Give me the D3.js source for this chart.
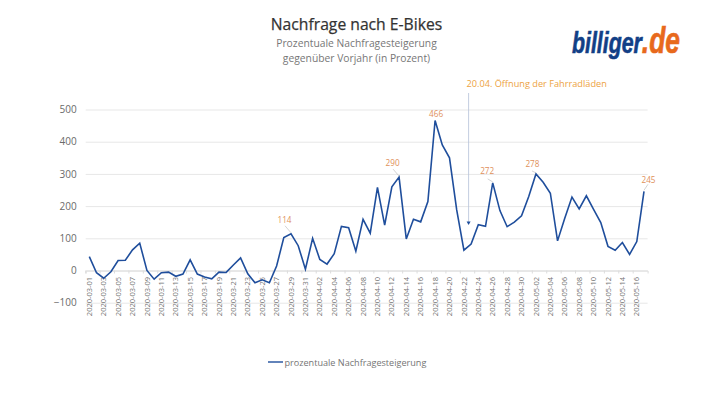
<!DOCTYPE html>
<html>

<head>
    <title>Nachfrage nach E-Bikes</title>
    <script src='https://cdn.jsdelivr.net/npm/d3@7'></script>
    <style type='text/css'>
        html,
        body {
            margin: 0;
            padding: 0;
            overflow: hidden;
            background: white;
        }

        svg {
            display: block;
        }

        text {
            font-family: 'Open Sans', sans-serif;
        }
    </style>
</head>

<body>
    <script>
        // Values, one per day from 2020-03-01 to 2020-05-17:
        const marchValues = [43, -7, -24, -4, 31, 32, 64, 85, 0, -27, -7, -5, -18, -11, 33, -11,
            -20, -26, -5, -6, 17, 39, -10, -38, -29, -38, 14, 102, 114, 77, 4];
        const aprilValues = [100, 34, 20, 52, 137, 133, 60, 159, 116, 258, 141, 260, 290, 98, 159,
            151, 214, 466, 390, 350, 188, 63, 82, 142, 137, 272, 186, 136, 150, 170];
        const mayValues = [230, 300, 274, 240, 92, 162, 228, 191, 232, 190, 149, 75, 63, 87, 50, 90, 246];
        const yTicks = [-100, 0, 100, 200, 300, 400, 500];
        const seriesName = 'prozentuale Nachfragesteigerung';

        // Printed labels (the one on 05-02 differs from the height of the line in the original):
        const calloutDates = ['2020-03-29', '2020-04-13', '2020-04-18', '2020-04-26', '2020-05-02', '2020-05-17'];
        const calloutTexts = ['114', '290', '466', '272', '278', '245'];

        // Build the dates:
        const pad = (n) => String(n).padStart(2, '0');
        const dates = [
            ...marchValues.map((_, i) => `2020-03-${pad(i + 1)}`),
            ...aprilValues.map((_, i) => `2020-04-${pad(i + 1)}`),
            ...mayValues.map((_, i) => `2020-05-${pad(i + 1)}`)
        ];
        const values = [...marchValues, ...aprilValues, ...mayValues];
        const data = dates.map((date, i) => ({ date, value: values[i] }));

        // page setup and dimensions:
        const width = 720;
        const height = 405;
        const svg = d3.select('body').append('svg')
            .attr('width', width)
            .attr('height', height);

        // scales:
        const x = d3.scaleBand().domain(dates).range([85.7, 647.6]);
        const y = d3.scaleLinear().domain([-100, 500]).range([302.7, 109.5]);
        const cx = (date) => x(date) + x.bandwidth() / 2;

        const grey = '#757575';
        const orange = '#e0905a';
        const blue = '#1f4e9c';

        // Titles:
        svg.append('text').attr('x', 356.5).attr('y', 30)
            .attr('text-anchor', 'middle').attr('font-size', 15.7).attr('fill', '#333')
            .attr('stroke', '#333').attr('stroke-width', 0.25)
            .text('Nachfrage nach E-Bikes');
        svg.append('text').attr('x', 356.5).attr('y', 47)
            .attr('text-anchor', 'middle').attr('font-size', 10.3).attr('fill', '#777')
            .text('Prozentuale Nachfragesteigerung');
        svg.append('text').attr('x', 356.5).attr('y', 62)
            .attr('text-anchor', 'middle').attr('font-size', 10.3).attr('fill', '#777')
            .text('gegenüber Vorjahr (in Prozent)');

        // Logo, as one text squeezed to its width:
        const logo = svg.append('text')
            .attr('x', 572).attr('y', 53)
            .attr('textLength', 108).attr('lengthAdjust', 'spacingAndGlyphs')
            .style('font-family', "'Liberation Sans', sans-serif")
            .attr('font-weight', 700).attr('font-style', 'italic')
            .attr('stroke-width', 0.6);
        logo.append('tspan').attr('font-size', 29)
            .attr('fill', '#123f86').attr('stroke', '#123f86').text('billiger');
        logo.append('tspan').attr('font-size', 36)
            .attr('fill', '#e8691c').attr('stroke', '#e8691c').text('.de');

        // Grid and y labels:
        svg.append('g')
            .attr('transform', `translate(${x.range()[0]},0)`)
            .call(d3.axisLeft(y).tickValues(yTicks).tickSize(-(x.range()[1] - x.range()[0])).tickPadding(9))
            .call(g => g.select('.domain').remove())
            .call(g => g.selectAll('line').attr('stroke', '#e7e7e7').attr('stroke-width', 1))
            .call(g => g.selectAll('text').attr('fill', '#6a6a6a').attr('font-size', 10)
                .style('font-family', "'Open Sans', sans-serif"));

        // x axis: every second date, ticks on the band edges
        const xAxis = svg.append('g')
            .attr('transform', `translate(0,${y(0)})`)
            .call(d3.axisBottom(x).tickValues(dates.filter((_, i) => i % 2 === 0)).tickSize(3).tickPadding(0))
            .call(g => g.select('.domain').attr('stroke', '#dcdcdc'))
            .call(g => g.selectAll('line').attr('stroke', '#dcdcdc')
                .attr('x1', -x.bandwidth() / 2).attr('x2', -x.bandwidth() / 2));
        xAxis.selectAll('text')
            .attr('transform', 'rotate(-90)')
            .attr('text-anchor', 'end')
            .attr('x', -6.5)
            .attr('y', 0)
            .attr('dy', '0.35em')
            .attr('fill', grey)
            .attr('font-size', 7.5)
            .style('font-family', "'Open Sans', sans-serif");

        // The line:
        const line = d3.line().x(d => cx(d.date)).y(d => y(d.value));
        svg.append('path')
            .datum(data)
            .attr('fill', 'none')
            .attr('stroke', blue)
            .attr('stroke-width', 1.6)
            .attr('stroke-linejoin', 'miter')
            .attr('d', line);

        // Callouts: [label dx, label dy, leader start dx, dy] relative to the point
        const calloutOffsets = [
            [-6.5, -11, -6, -8],
            [-6.5, -11, -6, -8],
            [1, -3, null, null],
            [-5.5, -8.5, -5, -4],
            [-3.5, -6.5, -4, -3],
            [4.5, -8, 4, -7]
        ];
        const valueOf = (date) => data.find(d => d.date === date).value;
        calloutDates.forEach((date, i) => {
            const [ldx, ldy, sdx, sdy] = calloutOffsets[i];
            const px = cx(date);
            const py = y(valueOf(date));
            if (sdx !== null) {
                svg.append('line')
                    .attr('x1', px + sdx).attr('y1', py + sdy)
                    .attr('x2', px).attr('y2', py - 1)
                    .attr('stroke', '#c0c0c0').attr('stroke-width', 0.7);
            }
            svg.append('text')
                .attr('x', px + ldx).attr('y', py + ldy)
                .attr('text-anchor', 'middle')
                .attr('font-size', 8.2)
                .attr('fill', orange)
                .text(calloutTexts[i]);
        });

        // Annotation with arrow (it sits a little left of the 04-23 point in the original):
        const arrowX = cx('2020-04-23') - 2.5;
        svg.append('text').attr('x', 466.5).attr('y', 87)
            .attr('font-size', 9.2).attr('fill', '#eda33f')
            .text('20.04. Öffnung der Fahrradläden');
        svg.append('line')
            .attr('x1', arrowX).attr('y1', 93).attr('x2', arrowX).attr('y2', 222)
            .attr('stroke', '#b4c0d8').attr('stroke-width', 0.8);
        svg.append('path')
            .attr('d', `M${arrowX - 2},221.5 L${arrowX + 2},221.5 L${arrowX},225 Z`)
            .attr('fill', blue);

        // Legend:
        svg.append('line')
            .attr('x1', 268).attr('x2', 283).attr('y1', 362).attr('y2', 362)
            .attr('stroke', blue).attr('stroke-width', 1.4);
        svg.append('text').attr('x', 284.5).attr('y', 365.5)
            .attr('font-size', 9.1).attr('fill', grey)
            .text(seriesName);
    </script>
</body>

</html>
